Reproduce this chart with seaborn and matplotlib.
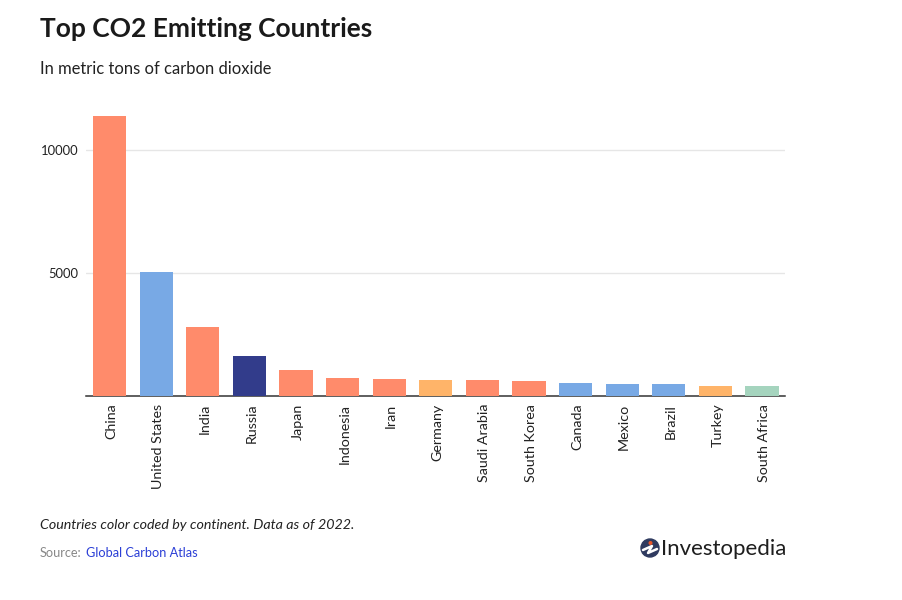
import matplotlib
matplotlib.use("Agg")
import matplotlib.pyplot as plt
import pandas as pd
import seaborn as sns
from matplotlib.patches import Circle
from matplotlib.lines import Line2D
from matplotlib.transforms import ScaledTranslation

countries = ["China", "United States", "India", "Russia", "Japan", "Indonesia", "Iran", "Germany",
             "Saudi Arabia", "South Korea", "Canada", "Mexico", "Brazil", "Turkey", "South Africa"]
emissions = [11400, 5050, 2810, 1630, 1060, 730, 690, 655, 660, 610, 530, 490, 490, 410, 410]
continents = ["Asia", "North America", "Asia", "Russia", "Asia", "Asia", "Asia", "Europe",
              "Asia", "Asia", "North America", "North America", "North America", "Europe", "Africa"]
continent_colors = {"Asia": "#FF8B6B", "North America": "#78A9E5", "Russia": "#323C8B",
                    "Europe": "#FFB469", "Africa": "#A5D4BE"}
yticks = [5000, 10000]

sns.set_theme(style="white")
plt.rcParams["font.family"] = ["Lato", "DejaVu Sans"]

df = pd.DataFrame({"country": countries, "emissions": emissions, "continent": continents})

fig = plt.figure(figsize=(9.02, 6), dpi=100)
W, H = 902, 600
ax = fig.add_axes([86.3 / W, 1 - 396 / H, 699 / W, 296 / H])

sns.barplot(data=df, x="country", y="emissions", hue="continent", palette=continent_colors,
            dodge=False, width=0.71, legend=False, saturation=1, linewidth=0, ax=ax, zorder=3)

ax.set_xlim(-0.5, 14.5)
ax.set_ylim(0, 12050)
ax.set_xlabel("")
ax.set_ylabel("")
ax.set_yticks(yticks)
ax.set_yticklabels([str(v) for v in yticks], fontsize=9.4, color="#222222")
ax.tick_params(axis="y", length=0, pad=5.5)
ax.tick_params(axis="x", length=0, pad=5.5)
plt.setp(ax.get_xticklabels(), rotation=90, fontsize=10.3, color="#222222", ha="center", va="top")
# nudge the rotated labels to the right, they sit a bit off centre otherwise
shift = ScaledTranslation(2 / 100, 0, fig.dpi_scale_trans)
for lab in ax.get_xticklabels():
    lab.set_transform(lab.get_transform() + shift)
ax.grid(axis="y", color="#E6E6E6", linewidth=1, zorder=0)
ax.set_axisbelow(True)
for side in ["top", "left", "right"]:
    ax.spines[side].set_visible(False)
ax.spines["bottom"].set_color("#333333")
ax.spines["bottom"].set_linewidth(1.1)

# header and footer text
fig.text(40 / W, 1 - 29 / H, "Top CO2 Emitting Countries", fontsize=19, fontweight="bold",
         color="#1A1A1A", va="center")
fig.text(40 / W, 1 - 69 / H, "In metric tons of carbon dioxide", fontsize=11.9, color="#222222", va="center")
fig.text(40 / W, 1 - 525 / H, "Countries color coded by continent. Data as of 2022.", fontsize=10.3,
         style="italic", color="#222222", va="center")
fig.text(40 / W, 1 - 553 / H, "Source:", fontsize=9.2, color="#888888", va="center")
fig.text(86 / W, 1 - 553 / H, "Global Carbon Atlas", fontsize=9.2, color="#2B3FD6", va="center")

# logo
logo = fig.add_axes([0, 0, 1, 1], facecolor="none")
logo.set_xlim(0, W)
logo.set_ylim(H, 0)
logo.axis("off")
logo.add_patch(Circle((650, 548), 9, color="#2F3A5F"))
logo.add_line(Line2D([643, 652, 648, 657], [550, 546, 553, 549], color="white", linewidth=1.8))
logo.add_patch(Circle((650.5, 543), 1.3, color="#E8562A", zorder=5))
logo.text(661, 549, "Investopedia", fontsize=16, color="#1E1E1E", va="center")

fig.savefig("out.png", dpi=100, facecolor="white")
